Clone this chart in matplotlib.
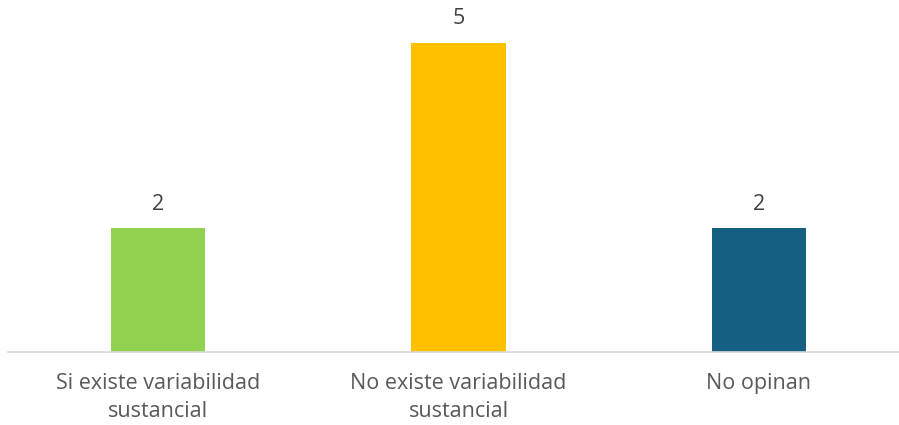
import matplotlib.pyplot as plt

categorias = ["Si existe variabilidad\nsustancial", "No existe variabilidad\nsustancial", "No opinan"]
valores = [2, 5, 2]
colores = ["#92D050", "#FFC000", "#156082"]

plt.rcParams["font.family"] = ["Open Sans", "DejaVu Sans"]

fig = plt.figure(figsize=(8.99, 4.25), dpi=100)
ax = fig.add_axes([7.75 / 899, 73 / 425, 901.5 / 899, 309 / 425])

x = range(len(categorias))
barras = ax.bar(x, valores, width=0.316, color=colores)

# etiquetas de valor encima de cada barra
for b, v in zip(barras, valores):
    ax.annotate(str(v), (b.get_x() + b.get_width() / 2, v), xytext=(0, 17.5),
                textcoords="offset points", ha="center", va="center",
                fontsize=15.5, color="#404040", annotation_clip=False)

ax.set_xlim(-0.5, 2.5)
ax.set_ylim(0, 5)
ax.set_xticks(list(x))
ax.set_xticklabels(categorias, fontsize=15.5, color="#595959", linespacing=1.45)
ax.tick_params(axis="x", length=0, pad=15)
ax.set_yticks([])
for s in ["top", "right", "left"]:
    ax.spines[s].set_visible(False)
ax.spines["bottom"].set_color("#D9D9D9")
ax.spines["bottom"].set_linewidth(1.2)

fig.savefig("out.png", dpi=100)
